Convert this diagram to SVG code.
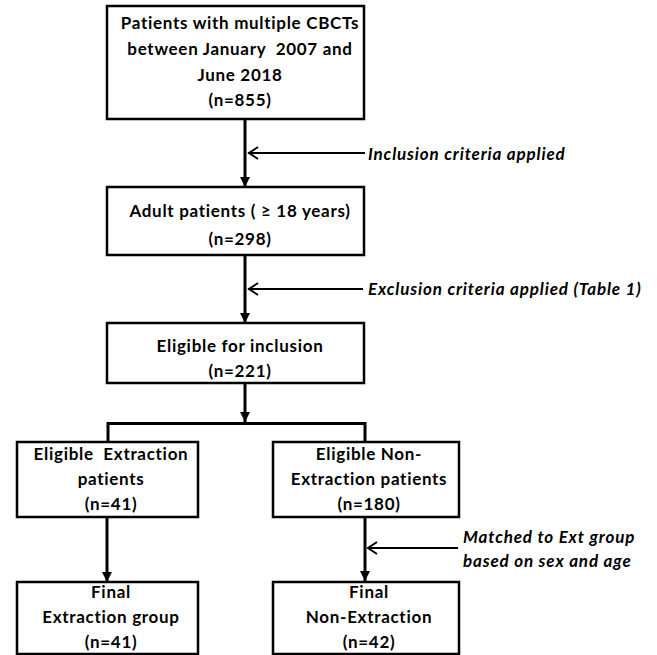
<svg xmlns="http://www.w3.org/2000/svg" width="657" height="655" viewBox="0 0 657 655">
<defs>
<style>
.box{fill:#fff;stroke:#000;stroke-width:2.5}
.t{font-family:Lato,"Liberation Sans",sans-serif;font-weight:bold;font-size:17px;letter-spacing:0.7px;fill:#000;text-anchor:middle}
.lab{font-family:Lato,"Liberation Sans",sans-serif;font-weight:bold;font-style:italic;font-size:17px;letter-spacing:0.85px;fill:#000}
.c{stroke:#000;stroke-width:3;fill:none}
.s{stroke:#000;stroke-width:2;fill:none}
.ch{stroke:#000;stroke-width:2;fill:none}
</style>
<marker id="ah" markerWidth="10" markerHeight="10" viewBox="0 0 10 10" refX="10" refY="5" orient="auto" markerUnits="userSpaceOnUse">
<path d="M0,0 L10,5 L0,10 Z" fill="#000"/>
</marker>
</defs>
<rect width="657" height="655" fill="#fff"/>
<g id="connectors">
<line class="c" x1="245" y1="119" x2="245" y2="187" marker-end="url(#ah)"/>
<line class="c" x1="245" y1="255" x2="245" y2="323" marker-end="url(#ah)"/>
<line class="c" x1="245" y1="383" x2="245" y2="422" marker-end="url(#ah)"/>
<polyline class="c" points="108,442 108,423.5 365,423.5 365,442"/>
<line class="c" x1="107" y1="517" x2="107" y2="582" marker-end="url(#ah)"/>
<line class="c" x1="365" y1="517" x2="365" y2="581" marker-end="url(#ah)"/>
<line class="s" x1="248" y1="153" x2="365" y2="153"/>
<polyline class="ch" points="258,147 249,153 258,159"/>
<line class="s" x1="248" y1="289" x2="363" y2="289"/>
<polyline class="ch" points="258,283 249,289 258,295"/>
<line class="s" x1="368" y1="548" x2="458" y2="548"/>
<polyline class="ch" points="377,542 368,548 377,554"/>
</g>
<g id="n1">
<rect class="box" x="107" y="6" width="257" height="113"/>
<text class="t" x="240" y="29">Patients with multiple CBCTs</text>
<text class="t" x="240" y="55" xml:space="preserve">between January  2007 and</text>
<text class="t" x="240" y="81">June 2018</text>
<text class="t" x="240" y="106">(n=855)</text>
</g>
<g id="n2">
<rect class="box" x="107" y="187" width="257" height="68"/>
<text class="t" x="240" y="217">Adult patients ( ≥ 18 years)</text>
<text class="t" x="240" y="245">(n=298)</text>
</g>
<g id="n3">
<rect class="box" x="107" y="323" width="257" height="60"/>
<text class="t" x="240" y="352">Eligible for inclusion</text>
<text class="t" x="240" y="377">(n=221)</text>
</g>
<g id="n4">
<rect class="box" x="17" y="442" width="181" height="75"/>
<text class="t" x="111" y="460" xml:space="preserve">Eligible  Extraction</text>
<text class="t" x="111" y="485">patients</text>
<text class="t" x="111" y="510">(n=41)</text>
</g>
<g id="n5">
<rect class="box" x="273" y="442" width="186" height="75"/>
<text class="t" x="369" y="460">Eligible Non-</text>
<text class="t" x="369" y="485">Extraction patients</text>
<text class="t" x="369" y="510">(n=180)</text>
</g>
<g id="n6">
<rect class="box" x="17" y="582" width="181" height="72"/>
<text class="t" x="111" y="598">Final</text>
<text class="t" x="111" y="623">Extraction group</text>
<text class="t" x="111" y="648">(n=41)</text>
</g>
<g id="n7">
<rect class="box" x="273" y="582" width="186" height="72"/>
<text class="t" x="369" y="598">Final</text>
<text class="t" x="369" y="623">Non-Extraction</text>
<text class="t" x="369" y="648">(n=42)</text>
</g>
<g id="labels">
<text class="lab" x="368" y="160">Inclusion criteria applied</text>
<text class="lab" x="368" y="295">Exclusion criteria applied (Table 1)</text>
<text class="lab" x="463" y="543">Matched to Ext group</text>
<text class="lab" x="463" y="567">based on sex and age</text>
</g>
</svg>
